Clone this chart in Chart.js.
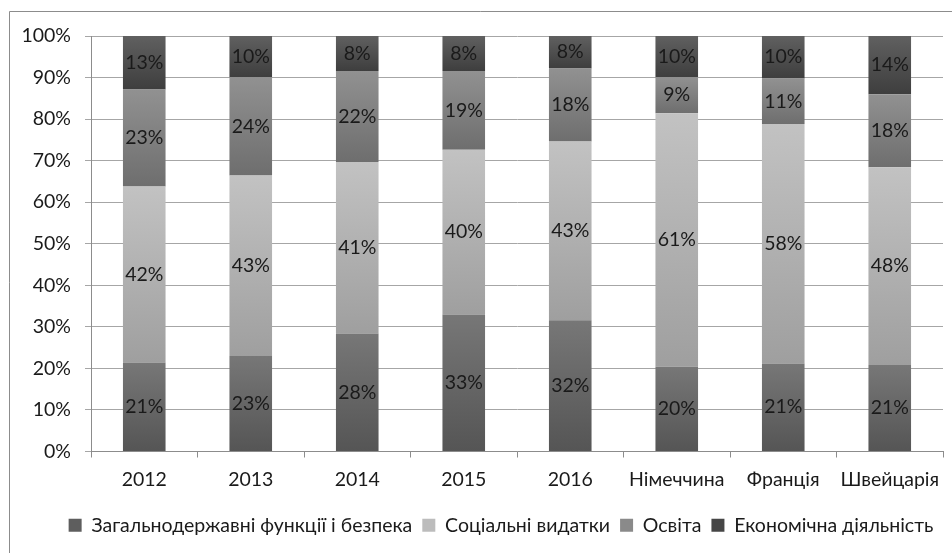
<!DOCTYPE html>
<html>
<head>
<meta charset="utf-8">
<script src="https://cdn.jsdelivr.net/npm/chart.js@4/dist/chart.umd.min.js"></script>
<style>
html,body{margin:0;padding:0;background:#fff;}
canvas{display:block;}
</style>
</head>
<body>
<canvas id="c" width="952" height="553"></canvas>
<script>
// ---- data ----
const categories = ['2012','2013','2014','2015','2016','Німеччина','Франція','Швейцарія'];
const seriesNames = ['Загальнодержавні функції і безпека','Соціальні видатки','Освіта','Економічна діяльність'];
const generalSecurity = [21.4, 23.0, 28.4, 33.0, 31.6, 20.4, 21.2, 20.8];
const socialSpending  = [42.4, 43.4, 41.3, 39.6, 43.0, 61.0, 57.6, 47.6];
const education       = [23.3, 23.7, 21.9, 19.0, 17.6, 8.7, 11.0, 17.6];
const economicActivity= [12.9, 9.9, 8.4, 8.4, 7.8, 9.9, 10.2, 14.0];
const yTicks = [0,10,20,30,40,50,60,70,80,90,100];

const FONT = 'Lato';
const FS = 19.5;
const allSeries = [generalSecurity, socialSpending, education, economicActivity];
const gradTop = ['#777777', '#c2c2c2', '#919191', '#606060'];
const gradBot = ['#555555', '#9f9f9f', '#6e6e6e', '#3e3e3e'];
const flat    = ['#5e5e5e', '#bcbcbc', '#8a8a8a', '#464646'];

function segColor(di) {
  return function(ctx) {
    const chart = ctx.chart;
    const y = chart.scales && chart.scales.y;
    if (ctx.type !== 'data' || !chart.chartArea || !y) return flat[di];
    const i = ctx.dataIndex;
    let base = 0;
    for (let k = 0; k < di; k++) base += allSeries[k][i];
    const top = base + allSeries[di][i];
    const y0 = y.getPixelForValue(base), y1 = y.getPixelForValue(top);
    if (!isFinite(y0) || !isFinite(y1) || y0 === y1) return flat[di];
    const g = chart.ctx.createLinearGradient(0, y1, 0, y0);
    g.addColorStop(0, gradTop[di]);
    g.addColorStop(1, gradBot[di]);
    return g;
  };
}

const datasets = allSeries.map((arr, di) => ({
  label: seriesNames[di],
  data: arr,
  backgroundColor: segColor(di),
  borderWidth: 0,
  categoryPercentage: 1.0,
  barPercentage: 0.4
}));

const labelPlugin = {
  id: 'segLabels',
  afterDatasetsDraw(chart) {
    const c = chart.ctx;
    c.save();
    c.font = FS + 'px ' + FONT;
    c.fillStyle = '#1a1a1a';
    c.textAlign = 'center';
    c.textBaseline = 'middle';
    chart.data.datasets.forEach((ds, di) => {
      const meta = chart.getDatasetMeta(di);
      meta.data.forEach((el, i) => {
        const p = el.getCenterPoint();
        c.fillText(Math.round(ds.data[i]) + '%', p.x, p.y);
      });
    });
    c.restore();
  }
};

const framePlugin = {
  id: 'frame',
  afterLayout(chart) {
    if (chart.legend) { chart.legend.left += 29.5; chart.legend.right += 29.5; }
  },
  beforeDraw(chart) {
    const c = chart.ctx;
    c.save();
    c.fillStyle = '#ffffff';
    c.fillRect(0, 0, chart.width, chart.height);
    c.strokeStyle = '#8c8c8c';
    c.lineWidth = 1;
    c.beginPath();
    c.moveTo(9.5, chart.height);
    c.lineTo(9.5, 11.5);
    c.lineTo(chart.width, 11.5);
    c.stroke();
    c.restore();
  }
};

new Chart(document.getElementById('c'), {
  type: 'bar',
  data: { labels: categories, datasets: datasets },
  plugins: [framePlugin, labelPlugin],
  options: {
    responsive: false,
    animation: false,
    layout: { padding: { left: 0, right: 9, top: 36, bottom: 8 } },
    plugins: {
      tooltip: { enabled: false },
      legend: {
        position: 'bottom',
        labels: {
          font: { family: FONT, size: FS },
          color: '#1a1a1a',
          boxWidth: 13,
          boxHeight: 13,
          padding: 10,
          generateLabels(chart) {
            return chart.data.datasets.map((ds, i) => ({
              text: ds.label,
              fillStyle: flat[i],
              strokeStyle: flat[i],
              lineWidth: 0,
              hidden: false,
              datasetIndex: i,
              fontColor: '#1a1a1a'
            }));
          }
        }
      }
    },
    scales: {
      x: {
        stacked: true,
        offset: true,
        grid: { display: true, drawOnChartArea: false, drawTicks: true, tickLength: 6, color: '#8c8c8c', offset: true },
        border: { display: true, color: '#8c8c8c' },
        ticks: { font: { family: FONT, size: FS }, color: '#1a1a1a', padding: 11, maxRotation: 0, autoSkip: false },
        afterFit(s) { s.height = 54; }
      },
      y: {
        stacked: true,
        min: 0, max: 100,
        afterBuildTicks(s) { s.ticks = yTicks.map(v => ({ value: v })); },
        grid: { color: '#a6a6a6', tickLength: 6, drawTicks: true },
        border: { display: true, color: '#8c8c8c' },
        ticks: { font: { family: FONT, size: FS }, color: '#1a1a1a', padding: 14, callback: v => v + '%' },
        afterFit(s) { s.width = 91; }
      }
    }
  }
});
</script>
</body>
</html>
